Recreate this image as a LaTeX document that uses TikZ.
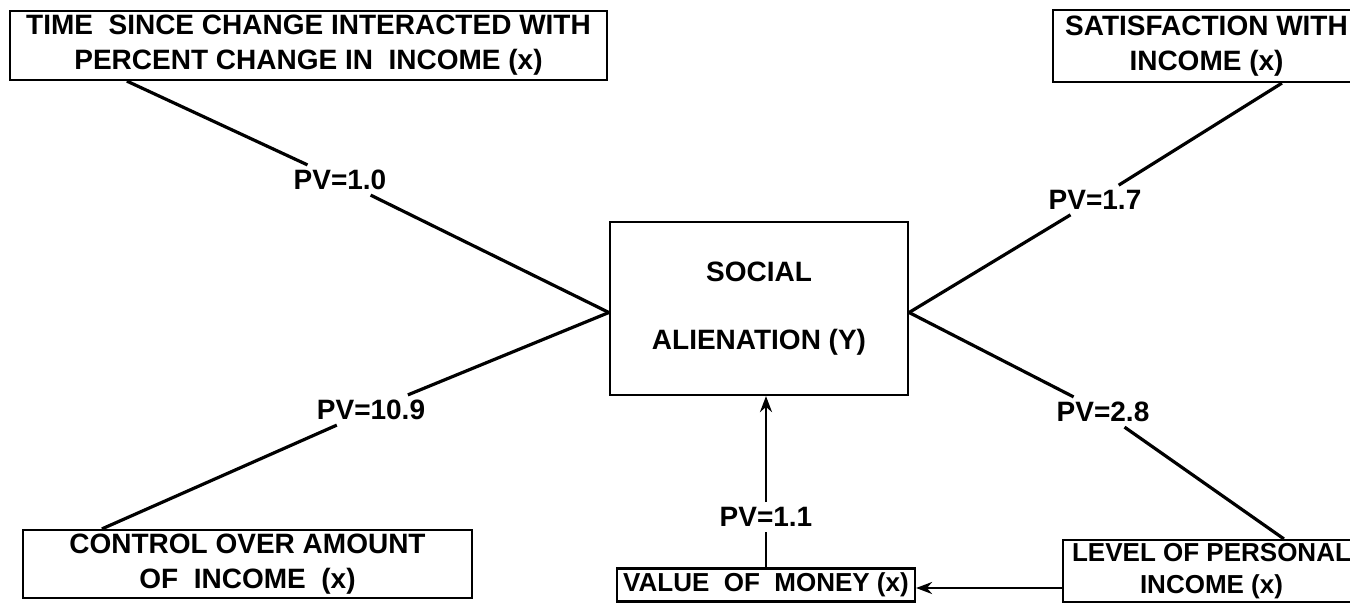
\documentclass[tikz,border=0pt]{standalone}
\usepackage{fontspec}
\setmainfont{Liberation Sans}
\usetikzlibrary{arrows.meta}
\newcommand{\dfont}{\fontsize{28}{35}\selectfont\bfseries}
\newcommand{\sfont}{\fontsize{26}{32}\selectfont\bfseries}
\tikzset{
  box/.style={draw, line width=2.2pt, inner sep=0pt, align=center, font=\dfont},
  lbl/.style={font=\dfont, inner sep=5pt},
  link/.style={line width=3.2pt},
  arr/.style={line width=2.6pt, -{Stealth[length=16pt,width=12pt]}},
}
\begin{document}
\begin{tikzpicture}[x=1pt,y=-1pt]
\useasboundingbox (0,0) rectangle (1350,603);
\clip (0,0) rectangle (1350,603);
\fill[white] (0,0) rectangle (1350,603);
% boxes
\node[box, minimum width=597pt, minimum height=69pt] (tl) at (308.5,45.5)
  {TIME~~SINCE CHANGE INTERACTED WITH\\PERCENT CHANGE IN~~INCOME (x)};
\node[box, minimum width=307pt, minimum height=72pt] (tr) at (1206.5,46)
  {SATISFACTION WITH\\INCOME (x)};
\node[box, minimum width=298pt, minimum height=173pt] (soc) at (759,308.5)
  {SOCIAL\\[33pt]ALIENATION (Y)};
\node[box, minimum width=449pt, minimum height=68pt] (bl) at (247.5,564)
  {CONTROL OVER AMOUNT\\OF~~INCOME~~(x)};
\node[box, font=\sfont, minimum width=298pt, minimum height=33pt] (val) at (766,585)
  {VALUE~~OF~~MONEY (x)};
\node[box, font=\sfont, minimum width=297pt, minimum height=62pt] (lv) at (1211.5,571)
  {LEVEL OF PERSONAL\\INCOME (x)};
% labels
\node[lbl] (pv1) at (340,180) {PV=1.0};
\node[lbl] (pv17) at (1095,200) {PV=1.7};
\node[lbl] (pv109) at (371,410) {PV=10.9};
\node[lbl] (pv28) at (1103,412) {PV=2.8};
\node[lbl] (pv11) at (766,517) {PV=1.1};
% connectors
\draw[link] ([xshift=118pt]tl.south west) -- (pv1);
\draw[link] (pv1) -- ([yshift=-4pt]soc.west);
\draw[link] ([xshift=80pt]bl.north west) -- (pv109);
\draw[link] (pv109) -- ([yshift=-4pt]soc.west);
\draw[link] ([xshift=230pt]tr.south west) -- (pv17);
\draw[link] (pv17) -- ([yshift=-4pt]soc.east);
\draw[link] ([xshift=222pt]lv.north west) -- (pv28);
\draw[link] (pv28) -- ([yshift=-4pt]soc.east);
\draw[line width=2.6pt] (pv11 |- val.north) -- (pv11);
\draw[arr] (pv11) -- (pv11 |- soc.south);
\draw[arr] ([yshift=-3pt]val.east -| lv.west) -- ([yshift=-3pt]val.east);
\end{tikzpicture}
\end{document}
